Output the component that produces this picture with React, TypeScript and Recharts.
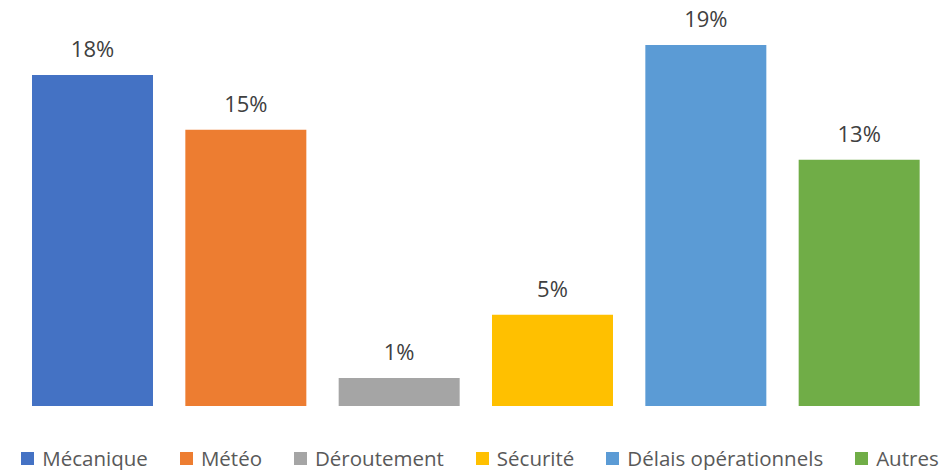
import { BarChart, Bar, XAxis, YAxis, Cell, LabelList, Legend } from "recharts";

const categories = ["Mécanique", "Météo", "Déroutement", "Sécurité", "Délais opérationnels", "Autres"];
const shares = [17.6, 14.7, 1.49, 4.85, 19.2, 13.1];
const colors = ["#4472C4", "#ED7D31", "#A5A5A5", "#FFC000", "#5B9BD5", "#70AD47"];

const data = categories.map((name, i) => ({ name, value: shares[i] }));

const FONT = "'Open Sans', sans-serif";

const TopLabel = (props: any) => {
  const { x, y, width, value } = props;
  return (
    <text
      x={x + width / 2}
      y={y - 18}
      textAnchor="middle"
      fill="#404040"
      fontSize={22}
      fontFamily={FONT}
    >
      {`${Math.round(value)}%`}
    </text>
  );
};

const CategoryLegend = () => (
  <div
    style={{
      display: "flex",
      justifyContent: "center",
      alignItems: "center",
      height: 24,
      lineHeight: 1,
      paddingLeft: 10,
      fontFamily: FONT,
      fontSize: 20.5,
      color: "#595959",
      gap: 32,
    }}
  >
    {categories.map((c, i) => (
      <div key={c} style={{ display: "flex", alignItems: "center" }}>
        <span style={{ width: 13, height: 13, background: colors[i], marginRight: 8, display: "inline-block" }} />
        <span>{c}</span>
      </div>
    ))}
  </div>
);

export default function App() {
  return (
    <div style={{ position: "absolute", left: 0, top: 0, width: 950, height: 470, background: "#fff" }}>
      <BarChart
        width={950}
        height={470}
        data={data}
        margin={{ top: 30, right: 14, left: 16, bottom: 40 }}
      >
        <XAxis dataKey="name" hide />
        <YAxis hide domain={[0, 20]} />
        <Legend
          height={24}
          content={<CategoryLegend />}
          wrapperStyle={{ top: 446, bottom: "auto", left: 0, width: 950 }}
        />
        <Bar dataKey="value" barSize={121} isAnimationActive={false}>
          {data.map((d, i) => (
            <Cell key={d.name} fill={colors[i]} />
          ))}
          <LabelList dataKey="value" content={<TopLabel />} />
        </Bar>
      </BarChart>
    </div>
  );
}
